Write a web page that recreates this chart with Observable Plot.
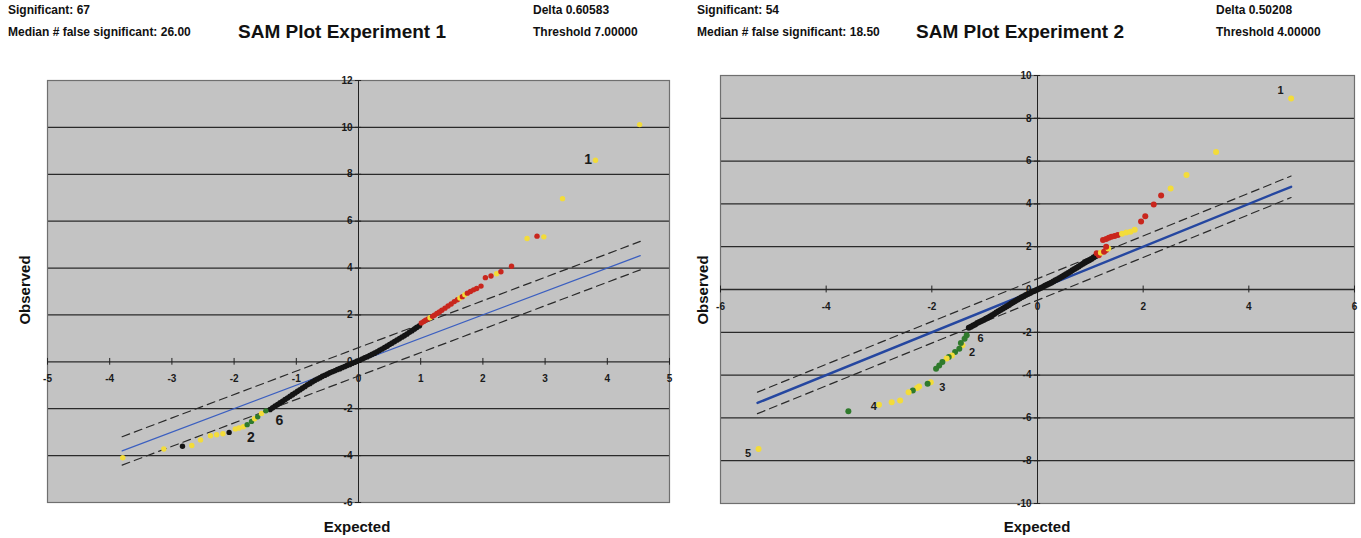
<!DOCTYPE html>
<html>
<head>
<meta charset="utf-8">
<script src="https://cdn.jsdelivr.net/npm/d3@7"></script>
<script src="https://cdn.jsdelivr.net/npm/@observablehq/plot@0.6"></script>
<style>
  html, body { margin: 0; padding: 0; background: #fff; }
  #wrap { position: relative; width: 1361px; height: 538px; overflow: hidden; background: #fff;
          font-family: "Liberation Sans", Arial, sans-serif; font-weight: bold; color: #111; }
  .t { position: absolute; white-space: nowrap; }
  .hdr { font-size: 12px; line-height: 12px; }
  .ttl { font-size: 19px; line-height: 20px; width: 400px; text-align: center; }
  .ax { font-size: 15px; line-height: 16px; width: 120px; text-align: center; }
  .panel { position: absolute; top: 0; }
</style>
</head>
<body>
<div id="wrap"></div>
<script>
// ---------------- data ----------------
const xTicks1 = [-5, -4, -3, -2, -1, 0, 1, 2, 3, 4, 5];
const yTicks1 = [-6, -4, -2, 0, 2, 4, 6, 8, 10, 12];
const xTicks2 = [-6, -4, -2, 0, 2, 4, 6];
const yTicks2 = [-10, -8, -6, -4, -2, 0, 2, 4, 6, 8, 10];

const header1 = ["Significant: 67", "Median # false significant: 26.00", "SAM Plot Experiment 1", "Delta 0.60583", "Threshold 7.00000"];
const header2 = ["Significant: 54", "Median # false significant: 18.50", "SAM Plot Experiment 2", "Delta 0.50208", "Threshold 4.00000"];
const delta1 = 0.60583;
const delta2 = 0.50208;
const lineX1 = [-3.8, 4.53];
const lineX2 = [-5.3, 4.8];

// expected, observed (non-significant genes)
const exp1Black = [
  [-1.42,-2.03],[-1.38,-1.96],[-1.34,-1.89],[-1.30,-1.82],[-1.26,-1.75],[-1.22,-1.68],[-1.18,-1.61],[-1.14,-1.54],
  [-1.10,-1.47],[-1.06,-1.40],[-1.02,-1.33],[-0.98,-1.26],[-0.94,-1.19],[-0.90,-1.12],[-0.86,-1.05],[-0.82,-0.98],
  [-0.78,-0.92],[-0.74,-0.85],[-0.70,-0.79],[-0.66,-0.73],[-0.62,-0.68],[-0.58,-0.62],[-0.54,-0.57],[-0.50,-0.52],
  [-0.46,-0.47],[-0.42,-0.42],[-0.38,-0.38],[-0.34,-0.33],[-0.30,-0.29],[-0.26,-0.24],[-0.22,-0.20],[-0.18,-0.15],
  [-0.14,-0.11],[-0.10,-0.06],[-0.06,-0.02],[-0.02,0.03],[0.02,0.07],[0.06,0.12],[0.10,0.17],[0.14,0.22],
  [0.18,0.27],[0.22,0.32],[0.26,0.37],[0.30,0.43],[0.34,0.49],[0.38,0.55],[0.42,0.61],[0.46,0.67],
  [0.50,0.74],[0.54,0.80],[0.58,0.87],[0.62,0.93],[0.66,0.99],[0.70,1.06],[0.74,1.12],[0.78,1.19],
  [0.82,1.26],[0.86,1.33],[0.90,1.40],[0.94,1.47],[0.98,1.54]
];
// expected, observed, colour class (r = red, y = yellow, g = green, k = black)
const exp1Sig = [
  [1.01,1.66,"r"],[1.05,1.72,"r"],[1.08,1.78,"r"],[1.12,1.83,"r"],[1.15,1.88,"y"],[1.19,1.94,"r"],[1.22,1.99,"r"],
  [1.26,2.06,"r"],[1.30,2.13,"r"],[1.34,2.20,"r"],[1.39,2.29,"r"],[1.44,2.38,"r"],[1.49,2.47,"r"],[1.54,2.57,"r"],
  [1.59,2.65,"r"],[1.63,2.72,"y"],[1.67,2.78,"r"],[1.71,2.86,"y"],[1.75,2.93,"r"],[1.80,3.00,"r"],[1.85,3.07,"r"],
  [1.90,3.13,"r"],[1.97,3.23,"r"],[2.04,3.59,"r"],[2.13,3.66,"r"],[2.22,3.76,"y"],[2.29,3.84,"r"],[2.46,4.08,"r"],
  [2.71,5.26,"y"],[2.87,5.36,"r"],[2.98,5.33,"y"],[3.28,6.96,"y"],[3.81,8.60,"y"],[4.52,10.12,"y"],
  [-3.79,-4.09,"y"],[-3.13,-3.72,"y"],[-2.83,-3.60,"k"],[-2.68,-3.57,"y"],[-2.54,-3.33,"y"],[-2.38,-3.15,"y"],
  [-2.28,-3.11,"y"],[-2.18,-3.07,"y"],[-2.08,-3.01,"k"],[-1.98,-2.86,"y"],[-1.92,-2.82,"y"],[-1.85,-2.77,"y"],
  [-1.79,-2.68,"g"],[-1.72,-2.54,"g"],[-1.67,-2.43,"y"],[-1.62,-2.34,"g"],[-1.56,-2.20,"y"],[-1.49,-2.09,"g"]
];
const exp1Labels = [[3.69,8.62,"1"],[-1.73,-3.23,"2"],[-1.27,-2.5,"6"]];

const exp2Black = [
  [-1.30,-1.79],[-1.26,-1.74],[-1.22,-1.68],[-1.18,-1.63],[-1.14,-1.57],[-1.10,-1.52],[-1.06,-1.47],[-1.02,-1.42],
  [-0.98,-1.37],[-0.94,-1.32],[-0.90,-1.26],[-0.86,-1.20],[-0.82,-1.14],[-0.78,-1.08],[-0.74,-1.02],[-0.70,-0.96],
  [-0.66,-0.90],[-0.62,-0.84],[-0.58,-0.78],[-0.54,-0.72],[-0.50,-0.66],[-0.46,-0.60],[-0.42,-0.54],[-0.38,-0.48],
  [-0.34,-0.42],[-0.30,-0.36],[-0.26,-0.31],[-0.22,-0.26],[-0.18,-0.21],[-0.14,-0.16],[-0.10,-0.11],[-0.06,-0.07],
  [-0.02,-0.02],[0.02,0.02],[0.06,0.07],[0.10,0.12],[0.14,0.17],[0.18,0.22],[0.22,0.27],[0.26,0.32],
  [0.30,0.37],[0.34,0.43],[0.38,0.48],[0.42,0.54],[0.46,0.59],[0.50,0.65],[0.54,0.71],[0.58,0.77],
  [0.62,0.83],[0.66,0.90],[0.70,0.96],[0.74,1.02],[0.78,1.08],[0.82,1.14],[0.86,1.20],[0.90,1.26],
  [0.94,1.32],[0.98,1.37],[1.02,1.43],[1.06,1.49],[1.10,1.55]
];
const exp2Sig = [
  [1.12,1.69,"r"],[1.16,1.60,"r"],[1.20,1.72,"y"],[1.26,1.76,"r"],[1.30,1.85,"r"],[1.34,1.92,"y"],[1.30,2.00,"r"],
  [1.24,2.31,"r"],[1.30,2.36,"r"],[1.35,2.42,"r"],[1.40,2.46,"r"],[1.46,2.50,"r"],[1.52,2.55,"r"],[1.60,2.60,"y"],
  [1.68,2.66,"y"],[1.76,2.70,"y"],[1.84,2.79,"y"],[1.96,3.18,"r"],[2.04,3.42,"r"],[2.20,3.97,"r"],[2.34,4.39,"r"],
  [2.52,4.72,"y"],[2.82,5.35,"y"],[3.38,6.43,"y"],[4.80,8.92,"y"],
  [-1.34,-2.14,"g"],[-1.38,-2.30,"g"],[-1.42,-2.61,"y"],[-1.45,-2.50,"g"],[-1.48,-2.77,"g"],[-1.56,-2.92,"g"],
  [-1.62,-3.08,"y"],[-1.68,-3.16,"g"],[-1.72,-3.23,"y"],[-1.80,-3.39,"g"],[-1.86,-3.55,"g"],[-1.92,-3.70,"g"],
  [-2.02,-4.33,"y"],[-2.08,-4.41,"g"],[-2.24,-4.53,"y"],[-2.28,-4.60,"y"],[-2.36,-4.72,"g"],[-2.44,-4.80,"y"],
  [-2.60,-5.19,"y"],[-2.76,-5.27,"y"],[-3.00,-5.38,"y"],[-3.58,-5.69,"g"],[-5.28,-7.45,"y"]
];
const exp2Labels = [[4.6,9.28,"1"],[-1.24,-2.92,"2"],[-1.8,-4.6,"3"],[-3.1,-5.47,"4"],[-5.48,-7.66,"5"],[-1.08,-2.3,"6"]];

const colorOf = {r: "#c9261d", y: "#f3dc3a", g: "#2f7a2c", k: "#141414"};

// ---------------- drawing ----------------
const wrap = document.getElementById("wrap");

function addText(cls, txt, left, top, extra) {
  const d = document.createElement("div");
  d.className = "t " + cls;
  d.textContent = txt;
  d.style.left = left + "px";
  d.style.top = top + "px";
  if (extra) Object.assign(d.style, extra);
  wrap.appendChild(d);
}

function panel(cfg) {
  const blue = cfg.lineX.map(x => ({x, y: x}));
  const up = cfg.lineX.map(x => ({x, y: x + cfg.delta}));
  const lo = cfg.lineX.map(x => ({x, y: x - cfg.delta}));
  const yr = cfg.yDomain[1] - cfg.yDomain[0];
  const xr = cfg.xDomain[1] - cfg.xDomain[0];
  const tickH = yr * 0.008, tickW = xr * 0.005;
  const innerY = cfg.yTicks.filter(t => t > cfg.yDomain[0] && t < cfg.yDomain[1]);
  const svg = Plot.plot({
    width: cfg.width, height: 538,
    marginLeft: cfg.ml, marginRight: cfg.mr, marginTop: cfg.mt, marginBottom: cfg.mb,
    x: {domain: cfg.xDomain, axis: null},
    y: {domain: cfg.yDomain, axis: null},
    style: {background: "transparent", fontFamily: "'Liberation Sans', Arial, sans-serif", fontWeight: "bold", fontSize: "10px", overflow: "visible"},
    marks: [
      Plot.frame({fill: "#c3c3c3", stroke: "none"}),
      Plot.ruleY(innerY, {stroke: "#2a2a2a", strokeWidth: 1.3}),
      Plot.ruleX([0], {stroke: "#222", strokeWidth: 1}),
      Plot.frame({stroke: "#6f6f6f", strokeWidth: 1.2}),
      Plot.ruleX(cfg.xTicks, {x: d => d, y1: -tickH, y2: tickH, stroke: "#222"}),
      Plot.ruleY(cfg.yTicks, {y: d => d, x1: -tickW, x2: tickW, stroke: "#222"}),
      Plot.text(cfg.xTicks, {x: d => d, y: 0, dy: 17, text: d => String(d), fill: "#1a1a1a", fontWeight: "bold", fontSize: 10}),
      Plot.text(cfg.yTicks, {x: 0, y: d => d, dx: -6, text: d => String(d), textAnchor: "end", fill: "#1a1a1a", fontWeight: "bold", fontSize: 10}),
      Plot.line(up, {x: "x", y: "y", stroke: "#2a2a2a", strokeWidth: 1.2, strokeDasharray: "8,5"}),
      Plot.line(lo, {x: "x", y: "y", stroke: "#2a2a2a", strokeWidth: 1.2, strokeDasharray: "8,5"}),
      Plot.line(blue, {x: "x", y: "y", stroke: cfg.blueColor, strokeWidth: cfg.blueWidth}),
      Plot.dot(cfg.black, {x: d => d[0], y: d => d[1], r: cfg.blackR, fill: "#141414", stroke: "none"}),
      Plot.dot(cfg.sig, {x: d => d[0], y: d => d[1], r: cfg.sigR, fill: d => colorOf[d[2]], stroke: "none"}),
      Plot.text(cfg.labels, {x: d => d[0], y: d => d[1], text: d => d[2], fill: "#1a1a1a", fontWeight: "bold", fontSize: cfg.labelSize})
    ]
  });
  const holder = document.createElement("div");
  holder.className = "panel";
  holder.style.left = cfg.left + "px";
  holder.appendChild(svg);
  wrap.appendChild(holder);

  const h = cfg.header;
  addText("hdr", h[0], cfg.left + cfg.hdrLeft, 4);
  addText("hdr", h[1], cfg.left + cfg.hdrLeft, 26);
  addText("ttl", h[2], cfg.left + cfg.titleCx - 200, 22);
  addText("hdr", h[3], cfg.left + cfg.deltaLeft, 4);
  addText("hdr", h[4], cfg.left + cfg.deltaLeft, 26);
  addText("ax", "Observed", cfg.left + cfg.obsX - 60, 282, {transform: "rotate(-90deg)"});
  addText("ax", "Expected", cfg.left + cfg.expX - 60, 519);
}

panel({
  left: 0, width: 680, ml: 47, mr: 11, mt: 80, mb: 36,
  xDomain: [-5, 5], yDomain: [-6, 12], xTicks: xTicks1, yTicks: yTicks1,
  lineX: lineX1, delta: delta1, black: exp1Black, sig: exp1Sig, labels: exp1Labels,
  blueColor: "#3b5fc0", blueWidth: 1.2, labelSize: 14, blackR: 2.8, sigR: 2.7,
  header: header1, hdrLeft: 8, titleCx: 342, deltaLeft: 533, obsX: 25, expX: 357
});
panel({
  left: 680, width: 681, ml: 40, mr: 7, mt: 75, mb: 35,
  xDomain: [-6, 6], yDomain: [-10, 10], xTicks: xTicks2, yTicks: yTicks2,
  lineX: lineX2, delta: delta2, black: exp2Black, sig: exp2Sig, labels: exp2Labels,
  blueColor: "#2547a0", blueWidth: 2.4, labelSize: 11, blackR: 3, sigR: 3,
  header: header2, hdrLeft: 17, titleCx: 340, deltaLeft: 536, obsX: 23, expX: 357
});
</script>
</body>
</html>
